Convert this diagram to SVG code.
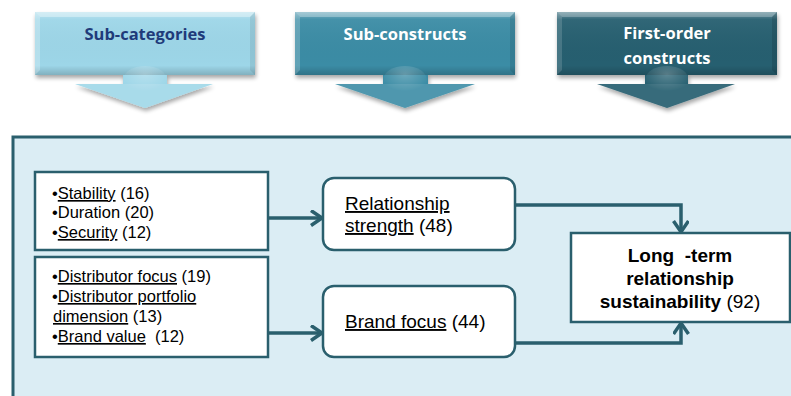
<svg xmlns="http://www.w3.org/2000/svg" width="791" height="396" viewBox="0 0 791 396">
<style>
.hdr{font-family:"Open Sans","Liberation Sans",sans-serif;font-weight:bold;font-size:16.5px;text-anchor:middle}
.t{font-family:"Liberation Sans",Arial,sans-serif;font-size:16.5px;fill:#000}
.t16{font-family:"Liberation Sans",Arial,sans-serif;font-size:19px;fill:#000}
.u{text-decoration:underline}
.box{fill:#fff;stroke:#2a5f6d;stroke-width:2.5}
.con{fill:none;stroke:#2a5f6d;stroke-width:3.5}
</style>
<defs>
<linearGradient id="bev" x1="0" y1="0" x2="0" y2="1">
<stop offset="0" stop-color="#fff" stop-opacity="0.35"/>
<stop offset="0.12" stop-color="#fff" stop-opacity="0.05"/>
<stop offset="0.85" stop-color="#000" stop-opacity="0"/>
<stop offset="1" stop-color="#000" stop-opacity="0.18"/>
</linearGradient>
<radialGradient id="neck" cx="0.5" cy="0.3" r="0.6">
<stop offset="0" stop-color="#fff" stop-opacity="0.25"/>
<stop offset="1" stop-color="#fff" stop-opacity="0"/>
</radialGradient>
<filter id="sh" x="-10%" y="-10%" width="130%" height="140%">
<feGaussianBlur in="SourceAlpha" stdDeviation="2"/>
<feOffset dx="1" dy="3" result="b"/>
<feComponentTransfer><feFuncA type="linear" slope="0.35"/></feComponentTransfer>
<feMerge><feMergeNode/><feMergeNode in="SourceGraphic"/></feMerge>
</filter>
<marker id="ah" markerUnits="userSpaceOnUse" markerWidth="16" markerHeight="20" refX="12" refY="8" orient="auto">
<path d="M1,0.5 L12,8 L1,15.5" fill="none" stroke="#2a5f6d" stroke-width="3.5"/>
</marker>
</defs>

<g id="hdr-subcategories">
<path d="M35,12 H255 V75 H167 V84 H213 L145,108 L75,84 H123 V75 H35 Z" fill="#9dd6e8" filter="url(#sh)"/>
<path d="M35,12 H255 V75 H35 Z" fill="url(#bev)"/>
<path d="M35,12 H255 L250,17 H40 Z" fill="#fff" opacity="0.35"/>
<path d="M35,12 L40,17 V70 L35,75 Z" fill="#fff" opacity="0.25"/>
<path d="M255,12 L250,17 V70 L255,75 Z" fill="#000" opacity="0.08"/>
<ellipse cx="145" cy="80" rx="22" ry="14" fill="url(#neck)"/>
<path d="M75,84 H213 L145,108 Z" fill="#fff" opacity="0.12"/>
<text class="hdr" x="145" y="40" fill="#1f3b7a">Sub-categories</text>
</g>

<g id="hdr-subconstructs">
<path d="M295,12 H515 V75 H428 V84 H475 L405,108 L335,84 H383 V75 H295 Z" fill="#3a8ca5" filter="url(#sh)"/>
<path d="M295,12 H515 V75 H295 Z" fill="url(#bev)"/>
<path d="M295,12 H515 L510,17 H300 Z" fill="#fff" opacity="0.3"/>
<path d="M295,12 L300,17 V70 L295,75 Z" fill="#fff" opacity="0.2"/>
<path d="M515,12 L510,17 V70 L515,75 Z" fill="#000" opacity="0.1"/>
<ellipse cx="405" cy="80" rx="22" ry="14" fill="url(#neck)"/>
<path d="M335,84 H475 L405,108 Z" fill="#fff" opacity="0.1"/>
<text class="hdr" x="405" y="40" fill="#fff">Sub-constructs</text>
</g>

<g id="hdr-firstorder">
<path d="M557,12 H777 V75 H688 V84 H735 L667,108 L597,84 H645 V75 H557 Z" fill="#275e6f" filter="url(#sh)"/>
<path d="M557,12 H777 V75 H557 Z" fill="url(#bev)"/>
<path d="M557,12 H777 L772,17 H562 Z" fill="#fff" opacity="0.25"/>
<path d="M557,12 L562,17 V70 L557,75 Z" fill="#fff" opacity="0.15"/>
<path d="M777,12 L772,17 V70 L777,75 Z" fill="#000" opacity="0.12"/>
<ellipse cx="667" cy="80" rx="22" ry="14" fill="url(#neck)"/>
<path d="M597,84 H735 L667,108 Z" fill="#fff" opacity="0.08"/>
<text class="hdr" x="667" y="39" fill="#fff">First-order</text>
<text class="hdr" x="667" y="64" fill="#fff">constructs</text>
</g>

<g id="panel">
<rect x="13" y="137" width="800" height="300" fill="#dbedf4" stroke="#2a5f6d" stroke-width="3"/>
</g>

<g id="connectors">
<path class="con" d="M268,218 H322" marker-end="url(#ah)"/>
<path class="con" d="M268,333 H322" marker-end="url(#ah)"/>
<path class="con" d="M515,205 H681 V232" marker-end="url(#ah)"/>
<path class="con" d="M515,343 H681 V323" marker-end="url(#ah)"/>
</g>

<g id="box-subcat1">
<rect class="box" x="35" y="172" width="233" height="78"/>
<text class="t" x="52" y="199">•<tspan class="u">Stability</tspan> (16)</text>
<text class="t" x="52" y="218">•Duration (20)</text>
<text class="t" x="52" y="238">•<tspan class="u">Security</tspan> (12)</text>
</g>

<g id="box-subcat2">
<rect class="box" x="35" y="257" width="233" height="100"/>
<text class="t" x="52" y="282">•<tspan class="u">Distributor focus</tspan> (19)</text>
<text class="t" x="52" y="302">•<tspan class="u">Distributor portfolio</tspan></text>
<text class="t" x="53" y="322"><tspan class="u">dimension</tspan> (13)</text>
<text class="t" x="52" y="342" xml:space="preserve">•<tspan class="u">Brand value</tspan>  (12)</text>
</g>

<g id="box-relationship">
<rect class="box" x="323" y="178" width="192" height="72" rx="11"/>
<text class="t16" x="345" y="210"><tspan class="u">Relationship</tspan></text>
<text class="t16" x="345" y="232"><tspan class="u">strength</tspan> (48)</text>
</g>

<g id="box-brand">
<rect class="box" x="323" y="286" width="192" height="71" rx="11"/>
<text class="t16" x="345" y="328"><tspan class="u">Brand focus</tspan> (44)</text>
</g>

<g id="box-target">
<rect class="box" x="571" y="233" width="219" height="89"/>
<text class="t16" x="680" y="262" text-anchor="middle" font-weight="bold" xml:space="preserve">Long  -term</text>
<text class="t16" x="680" y="285" text-anchor="middle" font-weight="bold">relationship</text>
<text class="t16" x="680" y="308" text-anchor="middle"><tspan font-weight="bold">sustainability</tspan> (92)</text>
</g>
</svg>
